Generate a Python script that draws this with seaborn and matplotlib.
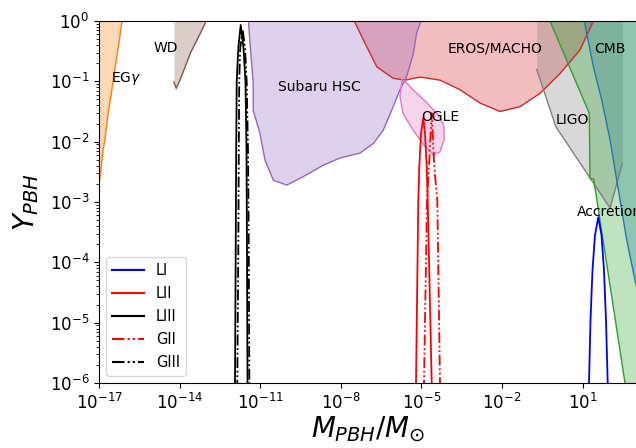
import numpy as np
import pandas as pd
import matplotlib
matplotlib.use("Agg")
import matplotlib.pyplot as plt
from matplotlib.ticker import NullLocator
from matplotlib.lines import Line2D
import seaborn as sns

# ---- constraint regions (log10 M/Msun, log10 Y) ----
EGG_LOGM = [-17.05, -16.99, -16.93, -16.85, -16.78, -16.67, -16.55, -16.47, -16.37, -16.27, -16.14]
EGG_LOGY = [-2.90, -2.69, -2.47, -2.14, -1.97, -1.56, -1.23, -0.98, -0.68, -0.40, 0.0]

WD_LOGM = [-14.21, -14.13, -13.99, -13.74, -13.61, -13.36, -13.05, -13.02]
WD_LOGY = [-1.01, -1.12, -0.98, -0.70, -0.54, -0.32, -0.04, 0.0]

SUBARU_LOGM = [-11.44, -11.38, -11.26, -11.26, -11.01, -10.82, -10.51, -10.01, -9.40,
               -8.65, -8.03, -7.29, -6.79, -6.42, -6.05, -5.80, -5.55, -5.30, -5.18, -5.02]
SUBARU_LOGY = [0.0, -0.36, -1.03, -1.48, -1.86, -2.31, -2.64, -2.72, -2.58,
               -2.39, -2.27, -2.19, -2.03, -1.81, -1.42, -1.14, -0.92, -0.54, -0.20, 0.0]

EROS_LOGM = [-7.50, -7.10, -6.66, -6.05, -5.61, -5.05, -4.31, -3.56, -2.82, -2.08,
             -1.33, -0.59, 0.16, 0.90, 1.40]
EROS_LOGY = [0.0, -0.37, -0.76, -0.95, -0.98, -0.93, -0.98, -1.14, -1.36, -1.50,
             -1.42, -1.20, -0.87, -0.48, 0.0]

OGLE_LOGM = [-5.72, -5.80, -5.69, -5.31, -4.87, -4.57, -4.31, -4.16, -4.16, -4.31,
             -4.79, -5.31, -5.61, -5.72]
OGLE_LOGY = [-0.98, -1.24, -1.53, -1.81, -2.08, -2.22, -2.17, -1.97, -1.75, -1.59,
             -1.36, -1.14, -1.00, -0.98]

LIGO_LOGM = [-0.71, 0.00, 2.02, 2.475]
LIGO_LOGY = [-0.80, -1.75, -3.10, -2.36]

CMB_LOGM = [1.06, 1.40, 1.71, 2.02, 2.27, 2.64, 2.95, 3.13]
CMB_LOGY = [0.0, -0.76, -1.31, -1.97, -2.64, -3.63, -4.30, -4.63]

ACC_LOGM = [-0.216, 1.247, 1.273, 1.41, 2.576, 3.10]
ACC_LOGY = [0.0, -1.53, -2.61, -2.62, -6.0, -7.52]

# ---- PBH abundance peaks ----
LI_LOGM = [1.21, 1.236, 1.292, 1.366, 1.459, 1.582, 1.701, 1.794, 1.869, 1.932, 1.96]
LI_LOGY = [-6.5, -6.0, -4.96, -4.13, -3.55, -3.25, -3.55, -4.13, -4.96, -6.0, -6.5]

LII_LOGM = [-5.22, -5.202, -5.117, -5.08, -5.016, -4.93, -4.867, -4.804, -4.767, -4.618, -4.60]
LII_LOGY = [-6.5, -6.0, -2.97, -2.42, -1.86, -1.61, -1.86, -2.42, -2.97, -6.0, -6.5]

GII_LOGM = [-4.92, -4.905, -4.793, -4.719, -4.618, -4.521, -4.41, -4.309, -4.29]
GII_LOGY = [-6.5, -6.0, -2.97, -2.42, -1.53, -2.42, -2.97, -6.0, -6.5]

LIII_LOGM = [-11.945, -11.939, -11.912, -11.894, -11.875, -11.816, -11.726, -11.622,
             -11.548, -11.511, -11.492, -11.473, -11.468]
LIII_LOGY = [-6.5, -6.0, -3.80, -2.14, -1.01, -0.45, -0.066, -0.45, -1.01, -2.14, -3.80, -6.0, -6.5]

GIII_LOGM = [-11.858, -11.853, -11.816, -11.797, -11.782, -11.745, -11.652, -11.566,
             -11.503, -11.455, -11.425, -11.406, -11.40]
GIII_LOGY = [-6.5, -6.0, -3.80, -2.14, -1.01, -0.45, -0.15, -0.45, -1.01, -2.14, -3.80, -6.0, -6.5]

LABELS = {
    "EG$\\gamma$": (-15.98, -0.945, "center"),
    "WD": (-14.53, -0.45, "center"),
    "Subaru HSC": (-8.79, -1.09, "center"),
    "EROS/MACHO": (-2.26, -0.456, "center"),
    "OGLE": (-4.30, -1.59, "center"),
    "LIGO": (0.60, -1.64, "center"),
    "CMB": (2.03, -0.456, "center"),
    "Accretion": (0.80, -3.17, "left"),
}


def lin(v):
    return 10.0 ** np.asarray(v, dtype=float)


fig = plt.figure(figsize=(6.36, 4.48), dpi=100)
ax = fig.add_axes([99 / 636, 65 / 448, 537.4 / 636, 362 / 448])
ax.set_xscale("log")
ax.set_yscale("log")


def edge(xs, ys, color, lw=1.0, **kw):
    df = pd.DataFrame({"m": lin(xs), "y": lin(ys)})
    sns.lineplot(data=df, x="m", y="y", sort=False, estimator=None, color=color,
                 lw=lw, ax=ax, **kw)


# regions bounded from below, open to the top
for xs, ys, c in [(EGG_LOGM, EGG_LOGY, "tab:orange"),
                  (WD_LOGM, WD_LOGY, "tab:brown"),
                  (EROS_LOGM, EROS_LOGY, "tab:red"),
                  (LIGO_LOGM, LIGO_LOGY, "tab:gray"),
                  (CMB_LOGM, CMB_LOGY, "tab:blue"),
                  (ACC_LOGM, ACC_LOGY, "tab:green")]:
    ax.fill_between(lin(xs), lin(ys), 1.0, color=c, alpha=0.3, lw=0)
    edge(xs, ys, c)

# closed regions
for xs, ys, c in [(SUBARU_LOGM, SUBARU_LOGY, "tab:purple"),
                  (OGLE_LOGM, OGLE_LOGY, "tab:pink")]:
    ax.fill(lin(xs), lin(ys), color=c, alpha=0.3, lw=0)
    edge(xs, ys, c)

ddot = (0, (6, 1.5, 1, 1.5, 1, 1.5))
curves = [
    ("LI", LI_LOGM, LI_LOGY, "blue", "-"),
    ("LII", LII_LOGM, LII_LOGY, "red", "-"),
    ("LIII", LIII_LOGM, LIII_LOGY, "black", "-"),
    ("GII", GII_LOGM, GII_LOGY, "red", ddot),
    ("GIII", GIII_LOGM, GIII_LOGY, "black", ddot),
]
handles = []
for name, xs, ys, c, ls in curves:
    edge(xs, ys, c, lw=1.3, linestyle=ls)
    handles.append(Line2D([], [], color=c, lw=1.5, linestyle=ls, label=name))

for txt, (lx, ly, ha) in LABELS.items():
    ax.text(10.0 ** lx, 10.0 ** ly, txt, ha=ha, va="center", fontsize=10)

ax.set_xlim(1e-17, 1e3)
ax.set_ylim(1e-6, 1.0)
ax.set_xticks([10.0 ** k for k in range(-17, 2, 3)])
ax.xaxis.set_minor_locator(NullLocator())
ax.tick_params(labelsize=12)
ax.spines["right"].set_visible(False)

ax.set_xlabel("$M_{PBH}/M_{\\odot}$", fontsize=20, labelpad=1)
ax.set_ylabel("$Y_{PBH}$", fontsize=20, labelpad=6)

ax.legend(handles=handles, loc="lower left", fontsize=10.5, handlelength=2.2,
          labelspacing=0.55)

fig.savefig("out.png", dpi=100)
